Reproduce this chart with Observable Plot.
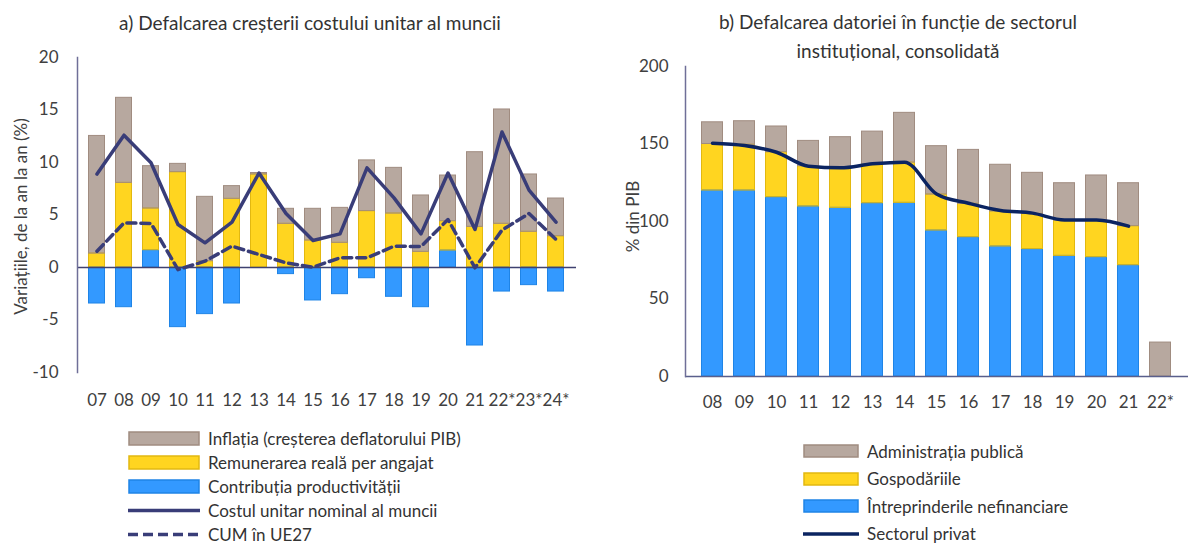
<!DOCTYPE html>
<html>
<head>
<meta charset="utf-8">
<script src="https://cdn.jsdelivr.net/npm/d3@7"></script>
<script src="https://cdn.jsdelivr.net/npm/@observablehq/plot@0.6"></script>
<style>
  html, body { margin: 0; padding: 0; background: #fff; }
  #root { position: relative; width: 1188px; height: 544px; overflow: hidden; font-family: Lato, "Open Sans", sans-serif; color: #404040; }
  .abs { position: absolute; }
  .title { font-size: 19px; text-align: center; white-space: nowrap; line-height: 29px; color: #333; }
  .ylab { font-size: 17px; white-space: nowrap; transform: rotate(-90deg); transform-origin: center center; color: #404040; }
  .leg { font-size: 17px; line-height: 17px; white-space: nowrap; color: #333; }
  .leg .row { position: absolute; left: 0; display: flex; align-items: center; height: 17px; }
  .leg span { display: block; line-height: 17px; height: 17px; }
  .leg svg { display: block; margin-right: 8px; }
</style>
</head>
<body>
<div id="root"></div>
<script>
// ---------- Panel a data ----------
const yearsA = ["07","08","09","10","11","12","13","14","15","16","17","18","19","20","21","22*","23*","24*"];
const productivity = [-3.43,-3.78,1.65,-5.68,-4.44,-3.43,0,-0.63,-3.14,-2.54,-1.02,-2.79,-3.78,1.62,-7.43,-2.29,-1.68,-2.29];
const remuneration = [1.33,8.06,3.97,9.08,0.6,6.54,8.86,4.16,2.57,2.35,5.37,5.14,1.49,2.79,3.87,4.16,3.4,2.98];
const inflation = [11.2,8.1,4.03,0.79,6.13,1.21,0.14,1.43,3.02,3.33,4.83,4.35,5.37,4.35,7.11,10.89,5.46,3.59];
const nominalULC = [8.9,12.6,9.97,4.1,2.35,4.32,9.0,5.14,2.57,3.2,9.49,6.63,3.2,9.0,3.62,12.9,7.37,4.32];
const ulcEU27 = [1.55,4.25,4.2,-0.2,0.6,2.03,1.24,0.44,0.03,0.92,0.92,2.03,2.0,4.57,-0.03,3.56,5.14,2.67];
const seriesA = ["Contribuția productivității","Remunerarea reală per angajat","Inflația (creșterea deflatorului PIB)"];
const ticksA = [-10,-5,0,5,10,15,20];

// ---------- Panel b data ----------
const yearsB = ["08","09","10","11","12","13","14","15","16","17","18","19","20","21","22*"];
const nonFinancial = [120,120,115.7,109.7,108.8,111.8,112,94.2,89.9,83.9,82.2,77.8,77,71.8,0];
const households = [30,29.5,29,26,25.8,24.8,26,23.2,21.5,22.6,22.7,22.8,23.6,25.2,0];
const government = [14,15.2,16.6,16.3,19.8,21.4,32.1,31.2,34.8,30.1,26.5,24.1,29.1,27.7,21.9];
const privateSector = [150.5,149,144.7,135.7,134.6,137.2,138.3,117.8,111.8,107.1,105.4,101,101,97];
const seriesB = ["Întreprinderile nefinanciare","Gospodăriile","Administrația publică"];
const ticksB = [0,50,100,150,200];

const fills = ["#3399FF","#FFD520","#B7A89F"];
const strokes = ["#1F84E6","#E2B810","#A08C80"];

const root = document.getElementById("root");
const font = "Lato, 'Open Sans', sans-serif";
const plainNum = d => String(d);

// ---------- Panel a ----------
const dataA = [];
yearsA.forEach((y, i) => {
  dataA.push({year: y, series: seriesA[0], value: productivity[i]});
  dataA.push({year: y, series: seriesA[1], value: remuneration[i]});
  dataA.push({year: y, series: seriesA[2], value: inflation[i]});
});
const linesA = yearsA.map((y, i) => ({year: y, nom: nominalULC[i], eu: ulcEU27[i]}));

const plotA = Plot.plot({
  width: 600, height: 420,
  marginLeft: 77, marginRight: 24, marginTop: 57, marginBottom: 48,
  style: {fontFamily: font, fontSize: "17px", color: "#404040", background: "transparent"},
  x: {domain: yearsA, padding: 0.36, label: null},
  y: {domain: [-10, 20], label: null},
  color: {domain: seriesA, range: fills},
  marks: [
    Plot.barY(dataA, {x: "year", y: "value", fill: "series", order: seriesA}),
    Plot.barY(dataA, {x: "year", y: "value", fill: "none", stroke: d => strokes[seriesA.indexOf(d.series)], strokeWidth: 1, order: seriesA, insetLeft: 0.5, insetRight: 0.5}),
    Plot.ruleY([0], {stroke: "#3F4170", strokeWidth: 1.5}),
    Plot.frame({anchor: "left", stroke: "#6F6F98", strokeWidth: 1.5}),
    Plot.lineY(linesA, {x: "year", y: "nom", stroke: "#393D78", strokeWidth: 3.5}),
    Plot.lineY(linesA, {x: "year", y: "eu", stroke: "#393D78", strokeWidth: 3.5, strokeDasharray: "9,5"}),
    Plot.axisY({ticks: ticksA, tickFormat: plainNum, tickSize: 0, tickPadding: 19, label: null}),
    Plot.axisX({tickSize: 0, tickPadding: 21, label: null, fontSize: 17})
  ]
});
plotA.style.position = "absolute";
plotA.style.left = "0px";
plotA.style.top = "0px";
root.appendChild(plotA);

// ---------- Panel b ----------
const dataB = [];
yearsB.forEach((y, i) => {
  dataB.push({year: y, series: seriesB[0], value: nonFinancial[i]});
  dataB.push({year: y, series: seriesB[1], value: households[i]});
  dataB.push({year: y, series: seriesB[2], value: government[i]});
});
const lineB = privateSector.map((v, i) => ({year: yearsB[i], value: v}));

const plotB = Plot.plot({
  width: 588, height: 420,
  marginLeft: 85, marginRight: 0, marginTop: 66, marginBottom: 44,
  style: {fontFamily: font, fontSize: "17px", color: "#404040", background: "transparent"},
  x: {domain: yearsB, padding: 0.31, label: null},
  y: {domain: [0, 200], label: null},
  color: {domain: seriesB, range: fills},
  marks: [
    Plot.barY(dataB.filter(d => d.value > 0), {x: "year", y: "value", fill: "series", order: seriesB}),
    Plot.barY(dataB.filter(d => d.value > 0), {x: "year", y: "value", fill: "none", stroke: d => strokes[seriesB.indexOf(d.series)], strokeWidth: 1, order: seriesB, insetLeft: 0.5, insetRight: 0.5}),
    Plot.ruleY([0], {stroke: "#5A5F8C", strokeWidth: 1.5}),
    Plot.frame({anchor: "left", stroke: "#6F6F98", strokeWidth: 1.5}),
    Plot.lineY(lineB, {x: "year", y: "value", stroke: "#0B2461", strokeWidth: 3.5, curve: "monotone-x"}),
    Plot.axisY({ticks: ticksB, tickFormat: plainNum, tickSize: 0, tickPadding: 17, label: null}),
    Plot.axisX({tickSize: 0, tickPadding: 19, label: null, fontSize: 17})
  ]
});
plotB.style.position = "absolute";
plotB.style.left = "600px";
plotB.style.top = "0px";
root.appendChild(plotB);

// ---------- Titles ----------
function addDiv(cls, html, css) {
  const d = document.createElement("div");
  d.className = "abs " + cls;
  d.innerHTML = html;
  Object.assign(d.style, css);
  root.appendChild(d);
  return d;
}
addDiv("title", "a) Defalcarea creșterii costului unitar al muncii", {left: "60px", width: "500px", top: "8px"});
addDiv("title", "b) Defalcarea datoriei în funcție de sectorul<br>instituțional, consolidată", {left: "648px", width: "500px", top: "7px"});
addDiv("ylab", "Variațiile, de la an la an (%)", {left: "-110px", width: "260px", top: "206px", textAlign: "center"});
addDiv("ylab", "% din PIB", {left: "582px", width: "100px", top: "206px", textAlign: "center"});

// ---------- Legends ----------
function legend(left, top, items, sw, sh, gap) {
  const box = addDiv("leg", "", {left: left + "px", top: top + "px"});
  items.forEach((it, i) => {
    const row = document.createElement("div");
    row.className = "row";
    row.style.top = (i * gap) + "px";
    let svg;
    if (it.type === "rect") {
      svg = `<svg width="${sw}" height="${sh + 2}"><rect x="1" y="1" width="${sw - 2}" height="${sh}" fill="${it.fill}" stroke="${it.stroke}" stroke-width="1.5"/></svg>`;
    } else {
      svg = `<svg width="${sw}" height="${sh + 2}"><line x1="0" x2="${sw}" y1="${(sh + 2) / 2}" y2="${(sh + 2) / 2}" stroke="${it.stroke}" stroke-width="3.5" ${it.dash ? `stroke-dasharray="${it.dash}"` : ""}/></svg>`;
    }
    row.innerHTML = svg + `<span>${it.label}</span>`;
    box.appendChild(row);
  });
}
legend(128, 429.5, [
  {type: "rect", label: seriesA[2], fill: fills[2], stroke: strokes[2]},
  {type: "rect", label: seriesA[1], fill: fills[1], stroke: strokes[1]},
  {type: "rect", label: seriesA[0], fill: fills[0], stroke: strokes[0]},
  {type: "line", label: "Costul unitar nominal al muncii", stroke: "#393D78"},
  {type: "line", label: "CUM în UE27", stroke: "#393D78", dash: "10,5"}
], 72, 13, 24.2);
legend(803, 442.5, [
  {type: "rect", label: seriesB[2], fill: fills[2], stroke: strokes[2]},
  {type: "rect", label: seriesB[1], fill: fills[1], stroke: strokes[1]},
  {type: "rect", label: seriesB[0], fill: fills[0], stroke: strokes[0]},
  {type: "line", label: "Sectorul privat", stroke: "#0B2461"}
], 56, 12, 27.5);
</script>
</body>
</html>
